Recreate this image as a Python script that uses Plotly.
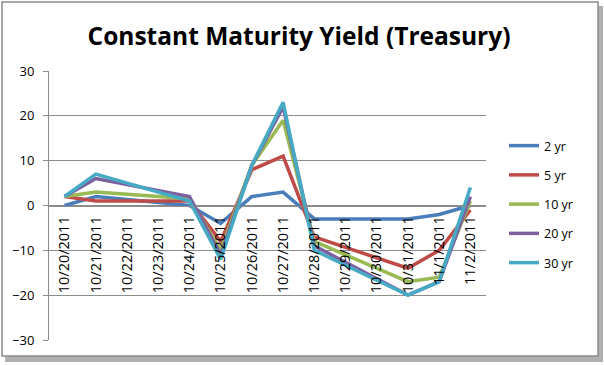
import plotly.graph_objects as go

dates = ["2011-10-20", "2011-10-21", "2011-10-24", "2011-10-25", "2011-10-26",
         "2011-10-27", "2011-10-28", "2011-10-31", "2011-11-01", "2011-11-02"]
yr2 = [0, 2, 0, -4, 2, 3, -3, -3, -2, 0]
yr5 = [2, 1, 1, -8, 8, 11, -7, -14, -10, -1]
yr10 = [2, 3, 1.5, -10, 9, 19, -8, -17, -16, 1]
yr20 = [2, 6, 2, -11, 9, 22, -9, -20, -17, 2]
yr30 = [2, 7, 1, -12, 9, 23, -10, -20, -17, 4]

tick_dates = ["2011-10-20", "2011-10-21", "2011-10-22", "2011-10-23", "2011-10-24",
              "2011-10-25", "2011-10-26", "2011-10-27", "2011-10-28", "2011-10-29",
              "2011-10-30", "2011-10-31", "2011-11-01", "2011-11-02"]
tick_labels = ["10/20/2011", "10/21/2011", "10/22/2011", "10/23/2011", "10/24/2011",
               "10/25/2011", "10/26/2011", "10/27/2011", "10/28/2011", "10/29/2011",
               "10/30/2011", "10/31/2011", "11/1/2011", "11/2/2011"]

series = [("2 yr", yr2, "#4A7EBB"), ("5 yr", yr5, "#BE4B48"), ("10 yr", yr10, "#98B954"),
          ("20 yr", yr20, "#7D60A0"), ("30 yr", yr30, "#46AAC5")]

fig = go.Figure()
for name, vals, col in series:
    fig.add_trace(go.Scatter(x=dates, y=vals, name=name, mode="lines",
                             legendgroup=name,
                             line=dict(color=col, width=3.5)))

W, H = 604, 365
L, R, T, B = 49, 486, 71, 340
def px(x):
    return (x - L) / (R - L)
def py(y):
    return (B - y) / (B - T)

fig.update_layout(
    width=W, height=H,
    margin=dict(l=L, r=W - R, t=T, b=H - B),
    paper_bgcolor="white", plot_bgcolor="white",
    font=dict(family="Open Sans", size=12, color="black"),
    title=dict(text="<b>Constant Maturity Yield (Treasury)</b>",
               font=dict(family="Open Sans", size=24.5, color="black"),
               x=299 / W, xanchor="center", xref="container", y=1 - 36 / H, yanchor="middle"),
    showlegend=True,
    legend=dict(x=px(504), xanchor="left", y=py(131), yanchor="top",
                font=dict(family="Open Sans", size=12.5), tracegroupgap=10,
                itemwidth=30, bgcolor="rgba(0,0,0,0)"),
    xaxis=dict(type="date", range=["2011-10-19 12:00", "2011-11-02 12:00"],
               tickvals=tick_dates, ticktext=tick_labels, tickangle=-90,
               showgrid=False, zeroline=False, showline=True, linecolor="#8c8c8c",
               anchor="free", position=0.5, ticks="", tickfont=dict(size=14.5),
               ticklabelstandoff=4),
    yaxis=dict(range=[-30, 30], tickvals=[-30, -20, -10, 0, 10, 20, 30],
               showgrid=True, gridcolor="#8c8c8c", gridwidth=1,
               zeroline=False, showline=True, linecolor="#8c8c8c",
               ticks="outside", ticklen=5, tickcolor="#8c8c8c",
               tickfont=dict(size=13), ticklabelstandoff=6),
    shapes=[
        dict(type="rect", xref="paper", yref="paper",
             x0=px(5), x1=px(603), y0=py(362), y1=py(6),
             line=dict(width=0), fillcolor="#b0b0b0", layer="below"),
        dict(type="rect", xref="paper", yref="paper",
             x0=px(2), x1=px(598), y0=py(356), y1=py(2),
             line=dict(width=1.5, color="#8a8a8a"), fillcolor="white", layer="below"),
    ],
)

fig.write_html("out.html", config={"displayModeBar": False},
               post_script="document.body.style.margin='0';document.body.style.overflow='hidden';")
